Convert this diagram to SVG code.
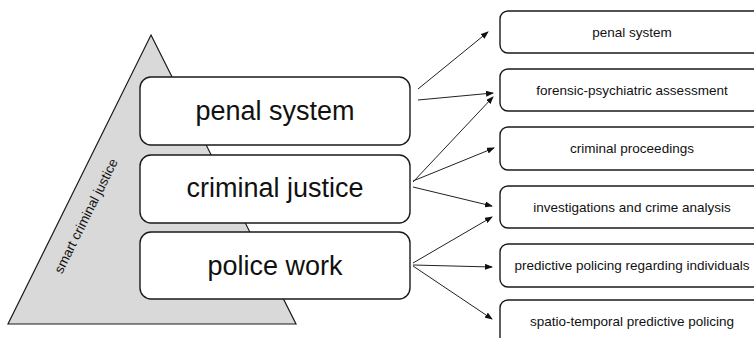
<svg xmlns="http://www.w3.org/2000/svg" width="754" height="338" viewBox="0 0 754 338">
<style>
.bg{fill:#ffffff}
.tri{fill:#d9d9d9;stroke:#1a1a1a;stroke-width:1.2}
.box{fill:#ffffff;stroke:#1a1a1a;stroke-width:1.4}
.big{font-family:"Liberation Sans",Arial,sans-serif;font-size:27px;fill:#111;text-anchor:middle}
.small{font-family:"Liberation Sans",Arial,sans-serif;font-size:13.5px;fill:#111;text-anchor:middle}
.side{font-family:"Liberation Sans",Arial,sans-serif;font-size:13.5px;fill:#111;text-anchor:middle}
.arr{stroke:#222;stroke-width:1;fill:none;marker-end:url(#ah)}
</style>
<defs>
<marker id="ah" markerUnits="userSpaceOnUse" markerWidth="8" markerHeight="6" refX="7" refY="3" orient="auto">
<path d="M0,0 L8,3 L0,6 z" fill="#111"/>
</marker>
</defs>
<rect class="bg" x="0" y="0" width="754" height="338"/>
<g id="pyramid">
<polygon class="tri" points="151,35 296,324 8,324"/>
<text class="side" transform="translate(90,218) rotate(-63.5)">smart criminal justice</text>
</g>
<g id="left-penal">
<rect class="box" x="140" y="77" width="270" height="68" rx="11"/>
<text class="big" x="275" y="120">penal system</text>
</g>
<g id="left-criminal">
<rect class="box" x="140" y="155" width="270" height="68" rx="11"/>
<text class="big" x="275" y="197">criminal justice</text>
</g>
<g id="left-police">
<rect class="box" x="140" y="232" width="270" height="67" rx="11"/>
<text class="big" x="275" y="275">police work</text>
</g>
<g id="r-penal">
<rect class="box" x="500" y="11" width="263" height="42" rx="8"/>
<text class="small" x="632" y="37">penal system</text>
</g>
<g id="r-forensic">
<rect class="box" x="500" y="69" width="263" height="42" rx="8"/>
<text class="small" x="632" y="95">forensic-psychiatric assessment</text>
</g>
<g id="r-proceedings">
<rect class="box" x="500" y="127" width="263" height="43" rx="8"/>
<text class="small" x="632" y="153">criminal proceedings</text>
</g>
<g id="r-investigations">
<rect class="box" x="500" y="186" width="263" height="42" rx="8"/>
<text class="small" x="632" y="212">investigations and crime analysis</text>
</g>
<g id="r-individuals">
<rect class="box" x="500" y="244" width="263" height="43" rx="8"/>
<text class="small" x="632" y="270">predictive policing regarding individuals</text>
</g>
<g id="r-spatio">
<rect class="box" x="500" y="300" width="263" height="45" rx="8"/>
<text class="small" x="632" y="326">spatio-temporal predictive policing</text>
</g>
<g id="connectors">
<line class="arr" x1="418" y1="89" x2="488" y2="32"/>
<line class="arr" x1="418" y1="100" x2="493" y2="93"/>
<line class="arr" x1="413" y1="182" x2="493" y2="97"/>
<line class="arr" x1="413" y1="181" x2="494" y2="148"/>
<line class="arr" x1="413" y1="187" x2="492" y2="206"/>
<line class="arr" x1="413" y1="263" x2="492" y2="217"/>
<line class="arr" x1="413" y1="265" x2="492" y2="267"/>
<line class="arr" x1="413" y1="266" x2="492" y2="319"/>
</g>
</svg>
